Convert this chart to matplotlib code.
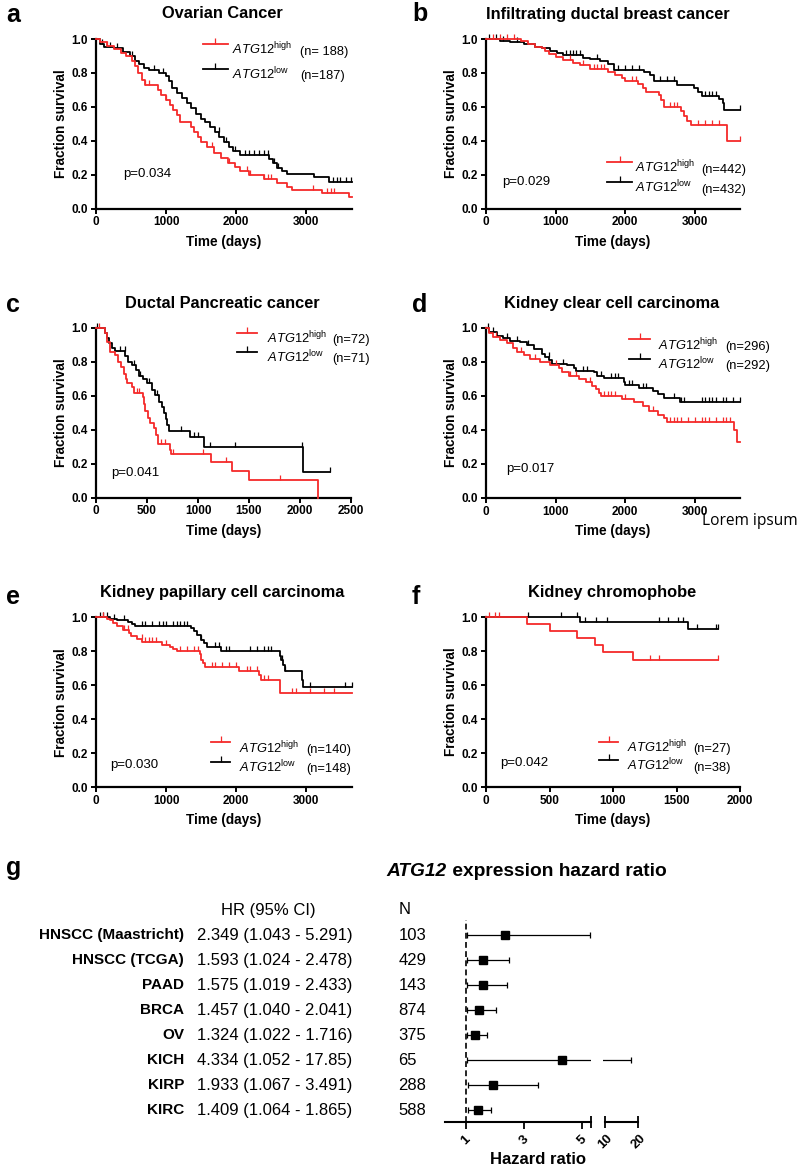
import numpy as np
import matplotlib
matplotlib.use("Agg")
import matplotlib.pyplot as plt
from matplotlib.lines import Line2D
from matplotlib.transforms import blended_transform_factory

# ------------------------------------------------------------------ data
# Panel a: Ovarian cancer
a_high_t = [0, 60, 150, 250, 350, 430, 520, 560, 600, 650, 700, 880, 930, 1000, 1060, 1100, 1150, 1200, 1350, 1400,
            1450, 1500, 1580, 1680, 1780, 1880, 1986, 2057, 2176, 2390, 2581, 2724, 2795, 3224, 3605, 3650]
a_high_s = [1.0, .98, .96, .94, .92, .90, .87, .84, .80, .76, .73, .70, .67, .64, .61, .58, .55, .51, .48, .45,
            .42, .39, .36, .33, .30, .27, .246, .222, .197, .174, .148, .128, .109, .093, .069, .069]
a_high_c = [150, 700, 760, 1000, 1650, 1900, 2150, 2200, 2400, 2450, 2500, 3100, 3300, 3350, 3400]
a_low_t = [0, 50, 120, 250, 380, 480, 560, 620, 680, 760, 900, 1000, 1040, 1080, 1150, 1220, 1300, 1360, 1420, 1500,
           1560, 1620, 1700, 1760, 1820, 1900, 1960, 2057, 2470, 2520, 2581, 2650, 2724, 3105, 3319, 3650]
a_low_s = [1.0, .97, .955, .945, .925, .90, .87, .85, .83, .815, .80, .78, .75, .71, .68, .65, .62, .59, .56, .53,
           .51, .48, .45, .42, .39, .36, .34, .315, .29, .266, .24, .22, .203, .187, .158, .158]
a_low_c = [80, 200, 300, 520, 820, 950, 1750, 1850, 1980, 2120, 2180, 2250, 2330, 2400, 2450, 2540, 2600,
           3380, 3430, 3480, 3560, 3640]

# Panel b: Infiltrating ductal breast cancer
b_high_t = [0, 500, 600, 700, 800, 850, 900, 1000, 1100, 1250, 1350, 1500, 1750, 1850, 1950, 2000, 2183, 2250, 2300,
            2486, 2520, 2558, 2798, 2850, 2894, 2942, 3460, 3650]
b_high_s = [1.0, .99, .97, .955, .945, .93, .91, .895, .875, .86, .845, .825, .805, .785, .77, .755, .735, .71, .69,
            .67, .64, .60, .575, .545, .515, .49, .40, .40]
b_high_c = [100, 200, 300, 400, 1200, 1400, 1550, 1600, 1650, 1700, 2100, 2150, 2650, 2700, 2750, 3050, 3150,
            3250, 3350, 3650]
b_low_t = [0, 200, 350, 550, 700, 800, 923, 1019, 1100, 1400, 1500, 1644, 1750, 1837, 2269, 2350, 2413, 2750, 2990,
           3050, 3111, 3350, 3400, 3420, 3650]
b_low_s = [1.0, .99, .98, .97, .955, .945, .93, .915, .905, .89, .88, .87, .85, .82, .805, .79, .75, .73, .71,
           .69, .665, .645, .62, .58, .58]
b_low_c = [50, 150, 250, 450, 1150, 1200, 1250, 1300, 1350, 1600, 1900, 2000, 2100, 2200, 2500, 2600, 2700,
           3150, 3200, 3250, 3300, 3650]

# Panel c: Ductal pancreatic cancer
c_high_t = [0, 90, 112, 138, 187, 220, 243, 270, 295, 308, 351, 377, 460, 472, 485, 508, 531, 571, 590, 604,
            722, 738, 1129, 1335, 1499, 2180]
c_high_s = [1.0, .97, .92, .86, .84, .80, .77, .73, .70, .675, .655, .615, .595, .555, .51, .47, .44, .41, .37, .315,
            .28, .255, .21, .16, .105, 0.0]
c_high_c = [30, 400, 420, 640, 680, 750, 1050, 1270, 1800]
c_low_t = [0, 89, 110, 131, 154, 187, 285, 318, 351, 390, 417, 459, 499, 548, 581, 614, 646, 663, 686, 696,
           718, 919, 1056, 2034, 2290]
c_low_s = [1.0, .97, .94, .91, .885, .865, .835, .80, .78, .75, .72, .70, .675, .635, .605, .565, .535, .50, .465, .43,
           .395, .36, .30, .15, .15]
c_low_c = [10, 240, 280, 370, 430, 520, 600, 830, 960, 1000, 1120, 1360, 2020, 2290]

# Panel d: Kidney clear cell carcinoma
d_high_t = [0, 50, 100, 202, 299, 395, 450, 540, 636, 781, 925, 1046, 1094, 1190, 1335, 1431, 1528, 1576, 1620, 1648,
            1961, 2130, 2251, 2347, 2467, 2564, 2602, 3560, 3600, 3650]
d_high_s = [1.0, .97, .95, .93, .91, .88, .86, .84, .82, .80, .785, .765, .74, .72, .70, .68, .66, .64, .62, .60,
            .58, .565, .54, .51, .49, .47, .45, .40, .33, .33]
d_high_c = [150, 500, 700, 1000, 1200, 1300, 1500, 1700, 1750, 1800, 1850, 2000, 2400, 2650, 2700, 2750, 2800,
            2900, 3000, 3100, 3150, 3200, 3300, 3400, 3450, 3500]
d_low_t = [0, 50, 154, 250, 347, 492, 588, 684, 805, 850, 901, 950, 1166, 1263, 1300, 1550, 1600, 1700, 1980, 1995,
           2200, 2395, 2467, 2564, 2781, 3650]
d_low_s = [1.0, .975, .955, .94, .925, .915, .90, .875, .845, .83, .81, .79, .78, .765, .75, .74, .72, .705, .68, .665,
           .65, .63, .61, .59, .565, .565]
d_low_c = [30, 100, 300, 450, 600, 900, 1100, 1400, 1450, 1650, 1800, 1850, 1900, 2050, 2100, 2250, 2300, 2700,
           2800, 2850, 3100, 3150, 3200, 3250, 3300, 3400, 3450, 3550, 3650]

# Panel e: Kidney papillary cell carcinoma
e_high_t = [0, 153, 200, 249, 297, 392, 464, 500, 584, 656, 943, 1062, 1100, 1150, 1480, 1493, 1530, 1560, 2043, 2330,
            2354, 2617, 3650]
e_high_s = [1.0, .99, .98, .965, .945, .925, .905, .89, .87, .855, .835, .825, .81, .80, .78, .75, .73, .705, .685, .66,
            .63, .555, .555]
e_high_c = [100, 400, 450, 650, 700, 750, 800, 850, 1000, 1200, 1300, 1400, 1450, 1650, 1700, 1800, 1900, 2000,
            2150, 2200, 2300, 2400, 2450, 2800, 2850, 3050, 3250, 3400]
e_low_t = [0, 200, 300, 344, 450, 512, 560, 1349, 1400, 1445, 1493, 1541, 1589, 1780, 2620, 2641, 2670, 2689, 2943,
           2952, 3650]
e_low_s = [1.0, .99, .985, .98, .97, .96, .95, .935, .915, .895, .865, .845, .825, .80, .77, .75, .72, .68, .63,
           .59, .59]
e_low_c = [50, 100, 150, 250, 400, 650, 700, 800, 900, 950, 1000, 1100, 1150, 1200, 1250, 1300, 1500, 1700, 1750,
           1850, 1900, 2200, 2300, 2400, 2450, 2500, 2650, 2700, 3050, 3550, 3650]

# Panel f: Kidney chromophobe
f_high_t = [0, 320, 500, 720, 860, 920, 1160, 1830]
f_high_s = [1.0, .958, .917, .875, .833, .792, .75, .75]
f_high_c = [20, 70, 105, 1290, 1360, 1830]
f_low_t = [0, 740, 1590, 1830]
f_low_s = [1.0, .971, .93, .93]
f_low_c = [330, 590, 720, 780, 870, 950, 1360, 1430, 1510, 1550, 1660, 1810, 1830]

titles = ["Ovarian Cancer", "Infiltrating ductal breast cancer", "Ductal Pancreatic cancer",
          "Kidney clear cell carcinoma", "Kidney papillary cell carcinoma", "Kidney chromophobe"]
n_high = ["(n= 188)", "(n=442)", "(n=72)", "(n=296)", "(n=140)", "(n=27)"]
n_low = ["(n=187)", "(n=432)", "(n=71)", "(n=292)", "(n=148)", "(n=38)"]
p_values = ["p=0.034", "p=0.029", "p=0.041", "p=0.017", "p=0.030", "p=0.042"]
x_max = [3650, 3650, 2500, 3650, 3650, 2000]
x_ticks = [[0, 1000, 2000, 3000], [0, 1000, 2000, 3000], [0, 500, 1000, 1500, 2000, 2500],
           [0, 1000, 2000, 3000], [0, 1000, 2000, 3000], [0, 500, 1000, 1500, 2000]]

# Panel g: hazard ratios
hr_labels = ["HNSCC (Maastricht)", "HNSCC (TCGA)", "PAAD", "BRCA", "OV", "KICH", "KIRP", "KIRC"]
hr_val = [2.349, 1.593, 1.575, 1.457, 1.324, 4.334, 1.933, 1.409]
hr_lo = [1.043, 1.024, 1.019, 1.040, 1.022, 1.052, 1.067, 1.064]
hr_hi = [5.291, 2.478, 2.433, 2.041, 1.716, 17.85, 3.491, 1.865]
hr_n = [103, 429, 143, 874, 375, 65, 288, 588]

# ------------------------------------------------------------------ style
plt.rcParams['font.family'] = ['Liberation Sans', 'DejaVu Sans']
plt.rcParams['mathtext.fontset'] = 'custom'
plt.rcParams['mathtext.rm'] = 'Liberation Sans'
plt.rcParams['mathtext.it'] = 'Liberation Sans:italic'
plt.rcParams['mathtext.bf'] = 'Liberation Sans:bold'

RED = '#f52a2a'
W, H = 800, 1167
fig = plt.figure(figsize=(W / 100, H / 100), dpi=100)


def fx(x):
    return x / W


def fy(y):
    return 1 - y / H


def add_ax(l, t, r, b):
    return fig.add_axes([l / W, 1 - b / H, (r - l) / W, (b - t) / H])


def step_val(t, s, c):
    idx = np.searchsorted(np.asarray(t), np.asarray(c), side='right') - 1
    return np.asarray(s)[idx]


panels = [
    dict(d=(a_high_t, a_high_s, a_high_c, a_low_t, a_low_s, a_low_c), box=(96, 39, 352, 208.5),
         title=(222.6, 14), letter=('a', 6, 15), leg=(203, 228, 232, 44.3, 69, 300), p=(123, 174)),
    dict(d=(b_high_t, b_high_s, b_high_c, b_low_t, b_low_s, b_low_c), box=(486, 39, 740, 208.5),
         title=(607.5, 14), letter=('b', 412, 14), leg=(607, 632, 635, 162, 182, 701.7), p=(502, 182)),
    dict(d=(c_high_t, c_high_s, c_high_c, c_low_t, c_low_s, c_low_c), box=(96, 328, 351, 497.7),
         title=(222.7, 303.3), letter=('c', 6, 305), leg=(237, 257, 266.7, 332.7, 351.7, 332.3), p=(111, 473)),
    dict(d=(d_high_t, d_high_s, d_high_c, d_low_t, d_low_s, d_low_c), box=(486, 328, 740, 498),
         title=(611.7, 303.3), letter=('d', 412, 305), leg=(629, 650, 658, 339.3, 358.7, 725), p=(506, 469)),
    dict(d=(e_high_t, e_high_s, e_high_c, e_low_t, e_low_s, e_low_c), box=(96, 617, 352, 787.3),
         title=(222.5, 592.7), letter=('e', 6, 597), leg=(211, 230, 239, 742.3, 761.7, 306), p=(110, 765)),
    dict(d=(f_high_t, f_high_s, f_high_c, f_low_t, f_low_s, f_low_c), box=(486, 617, 740, 787),
         title=(611.7, 592.7), letter=('f', 412, 597), leg=(599, 618, 627, 741.7, 760, 693.3), p=(500, 763.3)),
]

for i, pn in enumerate(panels):
    ax = add_ax(*pn['box'])
    ht, hs, hc, lt, ls, lc = pn['d']
    for t, s, c, col in ((lt, ls, lc, 'black'), (ht, hs, hc, RED)):
        ax.step(t, s, where='post', color=col, lw=1.3, clip_on=False, zorder=3)
        ax.plot(c, step_val(t, s, c), ls='none', marker=2, ms=3.5, mew=0.9, color=col,
                clip_on=False, zorder=3)
    ax.set_xlim(0, x_max[i])
    ax.set_ylim(0, 1.0)
    ax.set_xticks(x_ticks[i])
    ax.set_yticks(np.arange(0, 1.01, 0.2))
    ax.set_yticklabels([f"{v:.1f}" for v in np.arange(0, 1.01, 0.2)])
    for sp in ('top', 'right'):
        ax.spines[sp].set_visible(False)
    for sp in ('left', 'bottom'):
        ax.spines[sp].set_linewidth(1.6)
    ax.tick_params(width=1.4, length=3.6, labelsize=8.5, pad=2)
    for lab in ax.get_xticklabels() + ax.get_yticklabels():
        lab.set_fontweight('bold')
    ax.set_xlabel('Time (days)', fontsize=9.8, fontweight='bold', labelpad=4.5)
    ax.set_ylabel('Fraction survival', fontsize=9.8, fontweight='bold', labelpad=3)

    fig.text(fx(pn['title'][0]), fy(pn['title'][1]), titles[i], fontsize=11.8, fontweight='bold',
             ha='center', va='center')
    lt_, lx, ly = pn['letter']
    fig.text(fx(lx), fy(ly), lt_, fontsize=18, fontweight='bold', ha='left', va='center')

    x0, x1, xt, yh, yl, xn = pn['leg']
    for yy, col, sup, ntext in ((yh, RED, 'high', n_high[i]), (yl, 'black', 'low', n_low[i])):
        fig.add_artist(Line2D([fx(x0), fx(x1)], [fy(yy), fy(yy)], transform=fig.transFigure,
                              color=col, lw=1.3))
        fig.add_artist(Line2D([fx((x0 + x1) / 2)], [fy(yy)], transform=fig.transFigure,
                              color=col, marker=2, ms=4, mew=0.9, ls='none'))
        fig.text(fx(xt), fy(yy + 10.5), r'$\mathit{ATG12}^{\mathrm{' + sup + '}}$', fontsize=9.3,
                 ha='left', va='baseline')
        fig.text(fx(xn), fy(yy + 10.5), ntext, fontsize=9.3, ha='left', va='baseline')
    fig.text(fx(pn['p'][0]), fy(pn['p'][1]), p_values[i], fontsize=9.5, ha='left', va='center')

fig.text(fx(702), fy(521), 'Lorem ipsum', family=['Open Sans', 'DejaVu Sans'], fontsize=11.2,
         ha='left', va='center')

# ------------------------------------------------------------------ forest plot (g)
fig.text(fx(6), fy(868), 'g', fontsize=18, fontweight='bold', ha='left', va='center')
t1 = fig.text(fx(386.7), fy(871.7), 'ATG12', fontsize=13.8, fontweight='bold', style='italic',
              ha='left', va='center')
fig.add_artist(plt.Annotation(' expression hazard ratio', xy=(1, 0), xycoords=t1, va='bottom',
                              ha='left', fontsize=13.8, fontweight='bold'))

ax1 = add_ax(445, 920, 590.7, 1122.3)
ax2 = add_ax(602.7, 920, 638.3, 1122.3)
rows = -np.arange(len(hr_labels))
xerr = [np.array(hr_val) - np.array(hr_lo), np.array(hr_hi) - np.array(hr_val)]
for ax in (ax1, ax2):
    ax.errorbar(hr_val, rows, xerr=xerr, fmt='s', ms=5.4, color='black', ecolor='black',
                elinewidth=0.9, capsize=2, capthick=0.9)
    ax.set_ylim(-7.49, 0.6)
    ax.set_yticks([])
    for sp in ('top', 'right', 'left'):
        ax.spines[sp].set_visible(False)
    ax.spines['bottom'].set_linewidth(1.5)
    ax.patch.set_alpha(0)
ax1.axvline(1, color='black', lw=1.2, ls=(0, (3.5, 2)))
ax1.set_xlim(0.276, 5.31)
ax1.set_xticks([1, 3, 5])
ax1.set_xticks([5.31], minor=True)
ax1.tick_params(axis='x', which='major', direction='out', length=5, width=1.3, pad=3)
ax1.tick_params(axis='x', which='minor', direction='inout', length=8, width=1.3)
ax2.set_xlim(9.3, 20)
ax2.spines['bottom'].set_bounds(10, 20)
ax2.set_xticks([10, 20])
ax2.tick_params(axis='x', which='major', direction='inout', length=8, width=1.3, pad=3)
for ax in (ax1, ax2):
    for lab in ax.get_xticklabels():
        lab.set_rotation(45)
        lab.set_fontweight('bold')
        lab.set_fontsize(9.5)

fig.text(fx(538), fy(1159), 'Hazard ratio', fontsize=12, fontweight='bold', ha='center', va='center')

tr = blended_transform_factory(fig.transFigure, ax1.transData)


def fmt(v):
    return f"{v:.3f}" if v < 10 else f"{v:.2f}"


FS = 12
fig.text(fx(268), fy(910), 'HR (95% CI)', fontsize=FS, ha='center', va='center')
fig.text(fx(398.3), fy(910), 'N', fontsize=FS, ha='left', va='center')
for r, lab, v, lo, hi, n in zip(rows, hr_labels, hr_val, hr_lo, hr_hi, hr_n):
    fig.text(fx(184), r, lab, transform=tr, fontsize=11, fontweight='bold', ha='right', va='center')
    fig.text(fx(196.7), r, f"{fmt(v)} ({fmt(lo)} - {fmt(hi)})", transform=tr, fontsize=FS,
             ha='left', va='center')
    fig.text(fx(398.3), r, str(n), transform=tr, fontsize=FS, ha='left', va='center')

fig.savefig('out.png', dpi=100)
